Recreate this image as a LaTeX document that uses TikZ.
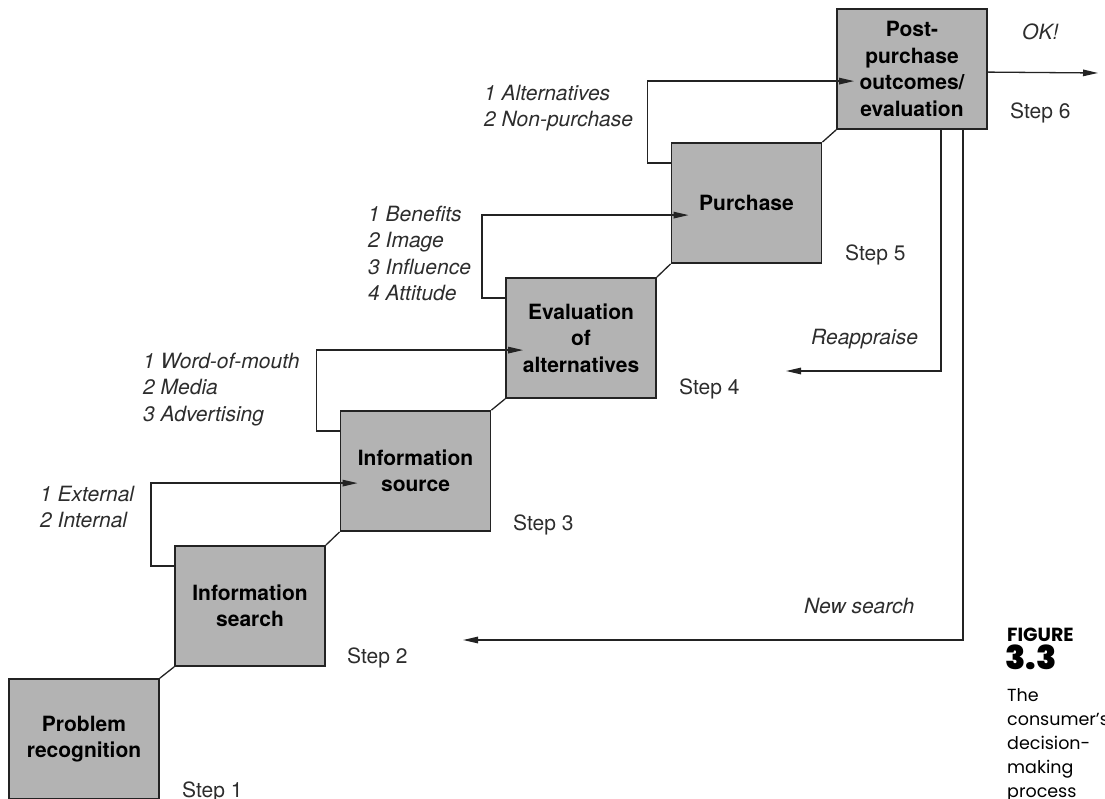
\documentclass[tikz,border=0pt]{standalone}
\usepackage{fontspec}
\setmainfont{TeX Gyre Heros}
\newfontfamily\capfont{Poppins}
\newfontfamily\capheavy{Poppins Black}
\usetikzlibrary{arrows.meta,calc}

\definecolor{boxfill}{RGB}{179,179,179}
\definecolor{ink}{RGB}{35,35,35}
\definecolor{soft}{RGB}{45,45,45}

\tikzset{
  stepbox/.style={draw=ink, line width=1.8pt, fill=boxfill,
    minimum width=150pt, minimum height=120pt, inner sep=0pt,
    align=center, font=\bfseries\fontsize{21}{26.5}\selectfont},
  conn/.style={draw=ink, line width=1.3pt},
  tip/.style={-{Triangle[length=15pt,width=6.5pt]}},
  lbl/.style={inner sep=0pt, align=left, text=soft,
    font=\itshape\fontsize{21}{26.5}\selectfont},
  steplbl/.style={inner sep=0pt, anchor=base west, text=soft,
    font=\fontsize{21}{26}\selectfont},
}

\begin{document}
\begin{tikzpicture}[x=1pt,y=-1pt]
\useasboundingbox (0,0) rectangle (1105,799);

% the six stages of the staircase
\node[stepbox] (b1) at (84,739)     {Problem\\recognition};
\node[stepbox] (b2) at (250,606)    {Information\\search};
\node[stepbox] (b3) at (415.5,471)  {Information\\source};
\node[stepbox] (b4) at (581,338)    {Evaluation\\of\\alternatives};
\node[stepbox] (b5) at (746.5,203)  {Purchase};
\node[stepbox] (b6) at (912,69)     {Post-\\purchase\\outcomes/\\evaluation};

% diagonal links between consecutive stages
\foreach \lo/\hi in {b1/b2,b2/b3,b3/b4,b4/b5,b5/b6}
  \draw[conn] (\lo.north east) -- (\hi.south west);

% feedback loops from each stage into the next one
\foreach \lo/\hi in {b2/b3,b3/b4,b4/b5,b5/b6}
  \draw[conn,tip] ($(\lo.north west)+(0,21)$) -- ++(-23,0)
    |- ($(\hi.north west)+(18,73)$);

% factor lists beside the loops
\node[lbl,anchor=north west] (f3) at (40,485.5)  {1 External\\2 Internal};
\node[lbl,anchor=north west] (f4) at (143,352.5) {1 Word-of-mouth\\2 Media\\3 Advertising};
\node[lbl,anchor=north west] (f5) at (368,205.5) {1 Benefits\\2 Image\\3 Influence\\4 Attitude};
\node[lbl,anchor=north west] (f6) at (484,84.5)  {1 Alternatives\\2 Non-purchase};

% step numbers
\node[steplbl] (s1) at (182,797.5) {Step 1};
\node[steplbl] (s2) at (347,663.5) {Step 2};
\node[steplbl] (s3) at (513,530)   {Step 3};
\node[steplbl] (s4) at (679,394.5) {Step 4};
\node[steplbl] (s5) at (845,260.5) {Step 5};
\node[steplbl] (s6) at (1010,118.5) {Step 6};

% outcomes of the post-purchase evaluation
\coordinate (okend) at (1098,73);
\coordinate (reap) at (786,371);
\coordinate (news) at (463,640);
\draw[conn,tip] ($(b6.north east)+(0,64)$) -- (okend);
\draw[conn,tip] ($(b6.south west)+(105,0)$) |- (reap);
\draw[conn,tip] ($(b6.south west)+(127,0)$) |- (news);

\node[lbl,anchor=base west] (ok) at (1022,39.5) {OK!};
\node[lbl,anchor=base west] (ra) at (811,344.5) {Reappraise};
\node[lbl,anchor=base west] (ns) at (804,613.5) {New search};

% figure caption
\node[inner sep=0pt,anchor=base west,font=\capfont\bfseries\fontsize{19}{22}\selectfont]
  (fig) at (1007,641) {FIGURE};
\node[inner sep=0pt,anchor=base west,font=\capheavy\fontsize{33}{36}\selectfont]
  (num) at (1005,669) {3.3};
\node[inner sep=0pt,anchor=north west,align=left,font=\capfont\fontsize{17.5}{24}\selectfont]
  (cap) at (1007,688) {The\\consumer’s\\decision-\\making\\process};
\end{tikzpicture}
\end{document}
